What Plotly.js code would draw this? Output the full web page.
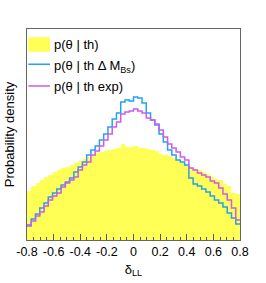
<!DOCTYPE html>
<html>
<head>
<meta charset="utf-8">
<script src="https://cdn.plot.ly/plotly-3.0.1.min.js"></script>
<style>html,body{margin:0;padding:0;background:#fff;}#chart{width:266px;height:283px;}</style>
</head>
<body>
<div id="chart"></div>
<script>
// Bin layout (50 bins from -0.8 to 0.8)
const binStart = -0.8;
const binWidth = 0.032;
const nBins = 50;

// Series values (arbitrary probability density units), one per bin
const pTh = [49,54,57,60,63,65,68,70,72,73,75,77,79,81,83,85,87,88,89,90,
             91,92,96,93,93,94,92,92,91,90,89,86,85,84,82,80,78,76,73,71,
             70,68,66,63,61,60,56,54,47,46];
const pThDM = [15,21,26,32,37,43,47,51,55,58,62,68,73,78,85,90,94,100,106,113,
               121,127,138,140,139,143,142,137,127,120,115,106,98,90,85,80,78,75,62,56,
               54,51,48,44,40,37,33,27,22,16];
const pThExp = [14,19,24,28,34,40,44,47,53,57,60,63,70,75,78,85,89,94,100,106,
                113,118,126,128,129,131,129,127,122,120,116,110,103,96,92,88,83,80,72,70,
                67,65,63,59,57,52,46,40,32,20];

const tickVals = [-0.8,-0.6,-0.4,-0.2,0,0.2,0.4,0.6,0.8];
const tickText = ["-0.8","-0.6","-0.4","-0.2","0","0.2","0.4","0.6","0.8"];

const names = ["p(θ | th)", "p(θ | th Δ M<sub>Bs</sub>)", "p(θ | th exp)"];
const colYellow = "#ffff55";
const colBlue = "#22a2f2";
const colMag = "#cc5cee";

const centers = [], edges = [];
for (let i = 0; i < nBins; i++) {
  centers.push(binStart + binWidth * (i + 0.5));
  edges.push(binStart + binWidth * i);
}
edges.push(binStart + binWidth * nBins);
const stepY = arr => arr.concat([arr[arr.length - 1]]);

const traces = [
  {type: "bar", x: centers, y: pTh, width: binWidth, marker: {color: colYellow, line: {width: 0}}, hoverinfo: "skip"},
  {type: "scatter", mode: "lines", x: edges, y: stepY(pThDM), line: {shape: "hv", color: colBlue, width: 1.5}, hoverinfo: "skip"},
  {type: "scatter", mode: "lines", x: edges, y: stepY(pThExp), line: {shape: "hv", color: colMag, width: 1.5}, hoverinfo: "skip"}
];

const font = "Liberation Sans, Arial, sans-serif";
const layout = {
  width: 266, height: 283,
  margin: {l: 27, r: 26, t: 29, b: 43, pad: 0},
  paper_bgcolor: "#fff", plot_bgcolor: "#fff",
  showlegend: false,
  bargap: 0,
  font: {family: font, size: 13, color: "#000"},
  xaxis: {
    range: [-0.8, 0.8], tickmode: "array", tickvals: tickVals, ticktext: tickText,
    ticks: "inside", ticklen: 6, tickcolor: "#555", tickwidth: 1,
    minor: {dtick: 0.05, ticks: "inside", ticklen: 3, tickcolor: "#555", tickwidth: 1},
    showline: true, mirror: true, linecolor: "#666", linewidth: 1,
    showgrid: false, zeroline: false,
    tickfont: {family: font, size: 12.5, color: "#000"},
    title: {text: "δ<sub>LL</sub>", font: {family: font, size: 13}, standoff: 6},
    automargin: false
  },
  yaxis: {
    range: [0, 211], showticklabels: false, ticks: "",
    showline: true, mirror: true, linecolor: "#666", linewidth: 1,
    showgrid: false, zeroline: false,
    title: {text: "Probability density", font: {family: font, size: 13}, standoff: 8},
    automargin: false
  },
  shapes: [
    {type: "rect", xref: "paper", yref: "paper", x0: 0.006, x1: 0.108, y0: 0.892, y1: 0.961, fillcolor: colYellow, line: {width: 0}},
    {type: "line", xref: "paper", yref: "paper", x0: 0.006, x1: 0.108, y0: 0.833, y1: 0.833, line: {color: colBlue, width: 1.5}},
    {type: "line", xref: "paper", yref: "paper", x0: 0.006, x1: 0.108, y0: 0.730, y1: 0.730, line: {color: colMag, width: 1.5}}
  ],
  annotations: [
    {xref: "paper", yref: "paper", x: 0.119, y: 0.926, xanchor: "left", yanchor: "middle", text: names[0], showarrow: false, font: {family: font, size: 13}},
    {xref: "paper", yref: "paper", x: 0.119, y: 0.822, xanchor: "left", yanchor: "middle", text: names[1], showarrow: false, font: {family: font, size: 13}},
    {xref: "paper", yref: "paper", x: 0.119, y: 0.728, xanchor: "left", yanchor: "middle", text: names[2], showarrow: false, font: {family: font, size: 13}}
  ]
};

Plotly.newPlot("chart", traces, layout, {displayModeBar: false, staticPlot: true});
</script>
</body>
</html>
